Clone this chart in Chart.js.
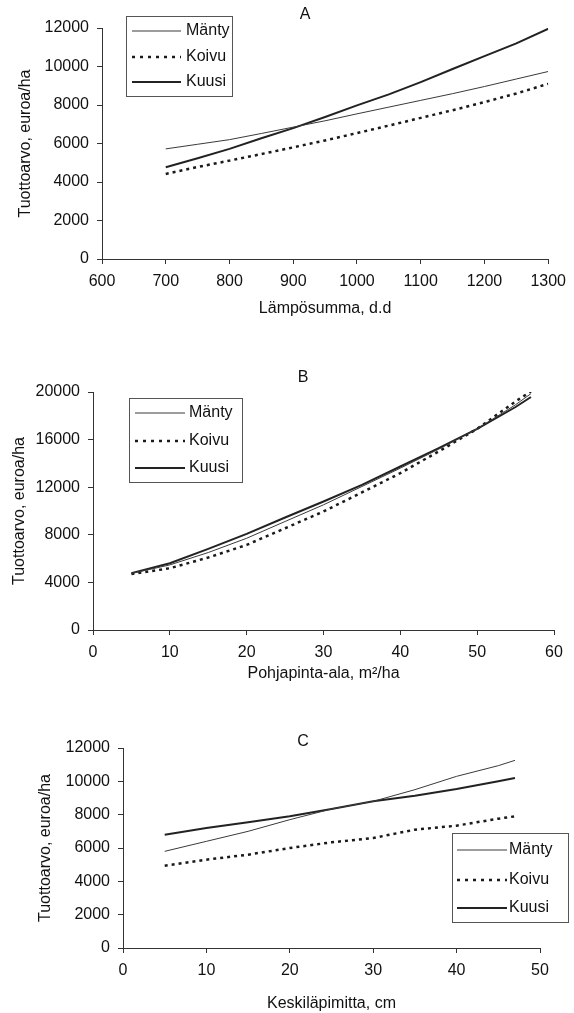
<!DOCTYPE html>
<html><head><meta charset="utf-8">
<script src="https://cdn.jsdelivr.net/npm/chart.js@4.4.1/dist/chart.umd.min.js"></script>
<style>
html,body{margin:0;padding:0;background:#fff;overflow:hidden}
#wrap{position:relative;width:574px;height:1013px}
canvas{position:absolute;left:0}
</style></head><body>
<div id="wrap">
<canvas id="cA" width="574" height="325" style="top:0px"></canvas>
<canvas id="cB" width="574" height="365" style="top:325px"></canvas>
<canvas id="cC" width="574" height="323" style="top:690px"></canvas>
</div>
<script>
const seriesNames = ['Mänty', 'Koivu', 'Kuusi'];
const yTitle = 'Tuottoarvo, euroa/ha';

// Panel A
const aX      = [700, 750, 800, 850, 900, 950, 1000, 1050, 1100, 1150, 1200, 1250, 1300];
const aManty  = [5720, 5960, 6200, 6520, 6850, 7180, 7540, 7890, 8240, 8590, 8960, 9350, 9740];
const aKoivu  = [4420, 4780, 5110, 5450, 5800, 6160, 6540, 6930, 7330, 7730, 8150, 8600, 9100];
const aKuusi  = [4770, 5230, 5720, 6270, 6800, 7380, 7980, 8550, 9190, 9870, 10540, 11200, 11960];
const aXTicks = [600, 700, 800, 900, 1000, 1100, 1200, 1300];
const aYTicks = [0, 2000, 4000, 6000, 8000, 10000, 12000];

// Panel B
const bX      = [5, 10, 15, 20, 25, 30, 35, 40, 45, 50, 55, 57];
const bManty  = [4750, 5470, 6510, 7710, 9120, 10520, 12060, 13600, 15200, 16900, 18930, 19860];
const bKoivu  = [4700, 5190, 6090, 7150, 8550, 9960, 11560, 13180, 15010, 16900, 19210, 20050];
const bKuusi  = [4780, 5610, 6820, 8080, 9450, 10800, 12200, 13740, 15290, 16900, 18740, 19580];
const bXTicks = [0, 10, 20, 30, 40, 50, 60];
const bYTicks = [0, 4000, 8000, 12000, 16000, 20000];

// Panel C
const cX      = [5, 10, 15, 20, 25, 30, 35, 40, 45, 47];
const cManty  = [5800, 6400, 7000, 7700, 8340, 8800, 9500, 10300, 10940, 11260];
const cKoivu  = [4940, 5300, 5600, 6000, 6340, 6600, 7100, 7340, 7760, 7900];
const cKuusi  = [6800, 7200, 7540, 7900, 8340, 8800, 9140, 9540, 10000, 10200];
const cXTicks = [0, 10, 20, 30, 40, 50];
const cYTicks = [0, 2000, 4000, 6000, 8000, 10000, 12000];

const FONT = {family: '"Liberation Sans", Arial, sans-serif', size: 16};
const TXT = '#111';
const AX = '#333';
const styles = [
  {borderColor: '#3a3a3a', borderWidth: 1},
  {borderColor: '#1a1a1a', borderWidth: 2.5, borderDash: [3, 4], legendDash: [3, 5]},
  {borderColor: '#222', borderWidth: 2}
];

const overlay = {
  id: 'overlay',
  afterDraw(chart, args, o) {
    const ctx = chart.ctx;
    ctx.save();
    ctx.font = '16px "Liberation Sans", Arial, sans-serif';
    ctx.fillStyle = TXT;
    ctx.textBaseline = 'middle';
    ctx.textAlign = 'center';
    ctx.fillText(o.letter, o.letterX, o.letterY);
    const b = o.box;
    ctx.strokeStyle = '#555';
    ctx.lineWidth = 1;
    ctx.strokeRect(b[0] + 0.5, b[1] + 0.5, b[2] - b[0], b[3] - b[1]);
    chart.data.datasets.forEach((ds, i) => {
      const y = o.rows[i];
      ctx.beginPath();
      ctx.setLineDash(ds.legendDash || ds.borderDash || []);
      ctx.lineWidth = ds.borderWidth;
      ctx.strokeStyle = ds.borderColor;
      ctx.moveTo(o.lineX[0], y);
      ctx.lineTo(o.lineX[1], y);
      ctx.stroke();
      ctx.setLineDash([]);
      ctx.textAlign = 'left';
      ctx.fillText(ds.label, o.textX, y);
    });
    ctx.restore();
  }
};

function makePanel(id, p) {
  const datasets = p.series.map((vals, i) => Object.assign({
    label: seriesNames[i],
    data: p.x.map((x, j) => ({x: x, y: vals[j]})),
    pointRadius: 0, tension: 0, fill: false
  }, styles[i]));
  return new Chart(document.getElementById(id), {
    type: 'line',
    data: {datasets},
    options: {
      responsive: false, animation: false, events: [],
      layout: {padding: {top: p.padTop, right: p.padRight, left: 0, bottom: 0}},
      plugins: {legend: {display: false}, tooltip: {enabled: false}, overlay: p.overlay},
      scales: {
        x: {
          type: 'linear', min: p.xTicks[0], max: p.xTicks[p.xTicks.length - 1],
          afterBuildTicks: s => { s.ticks = p.xTicks.map(v => ({value: v})); },
          afterFit: s => { s.height = p.xHeight; },
          border: {color: AX, width: 1},
          grid: {drawOnChartArea: false, drawTicks: true, tickLength: 5, color: AX},
          ticks: {padding: 8, color: TXT, font: FONT, maxRotation: 0, autoSkip: false, callback: v => String(v)},
          title: {display: true, text: p.xTitle, color: TXT, font: FONT, padding: {top: 0, bottom: p.xTitlePad}}
        },
        y: {
          type: 'linear', min: p.yTicks[0], max: p.yTicks[p.yTicks.length - 1],
          afterBuildTicks: s => { s.ticks = p.yTicks.map(v => ({value: v})); },
          afterFit: s => { s.width = p.yWidth; },
          border: {color: AX, width: 1},
          grid: {drawOnChartArea: false, drawTicks: true, tickLength: 5, color: AX},
          ticks: {padding: 8, color: TXT, font: FONT, autoSkip: false, callback: v => String(v)},
          title: {display: true, text: yTitle, color: TXT, font: FONT, padding: {top: p.yTitlePad, bottom: 0}}
        }
      }
    },
    plugins: [overlay]
  });
}

makePanel('cA', {
  x: aX, series: [aManty, aKoivu, aKuusi], xTicks: aXTicks, yTicks: aYTicks,
  padTop: 28, padRight: 18, xHeight: 66, yWidth: 102, xTitlePad: 7, yTitlePad: 16,
  xTitle: 'Lämpösumma, d.d',
  overlay: {letter: 'A', letterX: 305, letterY: 15, box: [126, 16, 232, 96], rows: [31, 57, 82], lineX: [132, 181], textX: 186}
});
makePanel('cB', {
  x: bX, series: [bManty, bKoivu, bKuusi], xTicks: bXTicks, yTicks: bYTicks,
  padTop: 67, padRight: 20, xHeight: 60, yWidth: 93, xTitlePad: 7, yTitlePad: 10,
  xTitle: 'Pohjapinta-ala, m²/ha',
  overlay: {letter: 'B', letterX: 303, letterY: 53, box: [129, 73, 242, 157], rows: [88, 116, 143], lineX: [135, 185], textX: 189}
});
makePanel('cC', {
  x: cX, series: [cManty, cKoivu, cKuusi], xTicks: cXTicks, yTicks: cYTicks,
  padTop: 58, padRight: 34, xHeight: 65, yWidth: 123, xTitlePad: 0, yTitlePad: 36,
  xTitle: 'Keskiläpimitta, cm',
  overlay: {letter: 'C', letterX: 303, letterY: 52, box: [452, 143, 568, 232], rows: [160, 190, 218], lineX: [457, 507], textX: 509}
});
</script>
</body></html>
